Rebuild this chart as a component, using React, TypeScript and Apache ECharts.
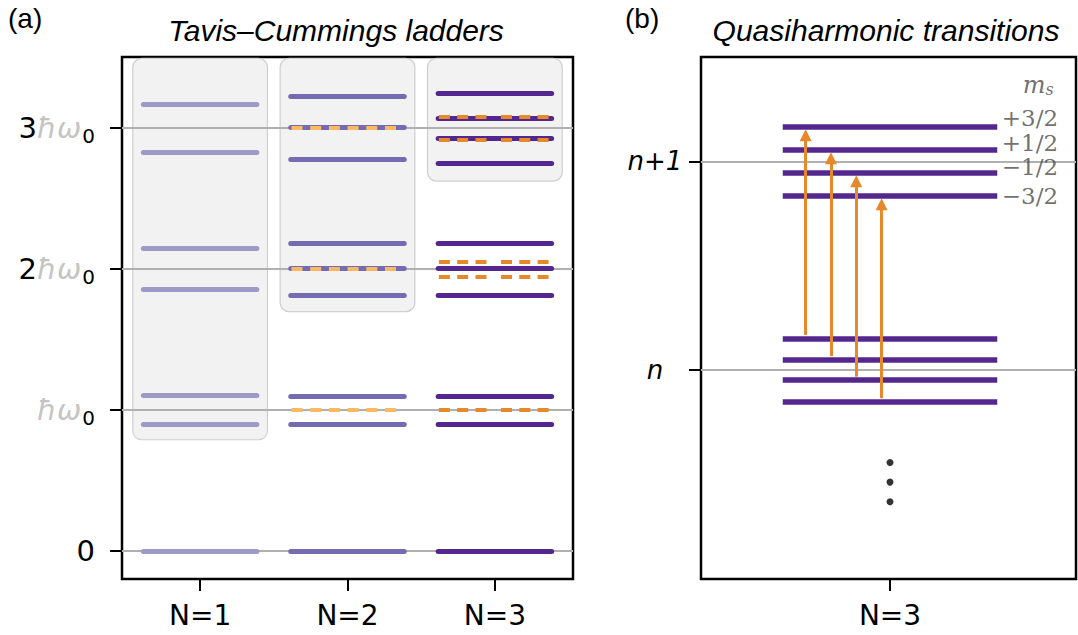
import React, { useEffect, useRef } from "react";
import * as echarts from "echarts";

// ---------- Panel (a): Tavis–Cummings ladders ----------
const columnsA = [0, 1, 2];
const xTickLabelsA = ["N=1", "N=2", "N=3"];
const yTicksA = [0, 1, 2, 3];
const levelsN1 = [0, 0.9, 1.1, 1.855, 2.142, 2.827, 3.168];
const levelsN2 = [0, 0.897, 1.097, 1.813, 2.0, 2.18, 2.775, 3.0, 3.225];
const darkN2 = [1.0, 2.0, 3.0];
const levelsN3 = [0, 0.897, 1.097, 1.813, 2.0, 2.177, 2.745, 2.924, 3.064, 3.24];
const darkN3 = [1.0, 1.94, 2.05, 2.91, 3.075];
const boxBottoms = [0.787, 1.695, 2.62];
const boxTop = 3.49;

// ---------- Panel (b): Quasiharmonic transitions ----------
const xTickLabelsB = ["N=3"];
const yTicksB = [1, 2];
const yTickLabelsB = ["n", "n+1"];
const levelsLower = [1.153, 1.052, 0.953, 0.85];
const levelsUpper = [2.165, 2.055, 1.945, 1.835];
const arrowX = [-0.45, -0.315, -0.18, -0.045];
const msLabels = ["+3/2", "+1/2", "\u22121/2", "\u22123/2"];
const msLabelY = [2.209, 2.087, 1.973, 1.836];
const msHeaderPos = [0.79, 2.367];
const dotsY = [0.558, 0.464, 0.37];

const X_A = [-0.53, 2.53];
const Y_A = [-0.2, 3.5];
const X_B = [-1.008, 0.992];
const Y_B = [0, 2.5];

const C1 = "#9e9ac8";
const C2 = "#756bb1";
const C3 = "#54278f";
const ORANGE_LIGHT = "#fdb863";
const ORANGE = "#e6892b";
const GRID_GREY = "#b0b0b0";

const HALF_A = 0.385;
const HALF_BOX = 0.457;
const HALF_B = 0.572;

function seg(cx: number, y: number, half: number) {
  return { coords: [[cx - half, y], [cx + half, y]] };
}

export default function App() {
  const ref = useRef<HTMLDivElement>(null);
  useEffect(() => {
    if (!ref.current) return;
    const chart = echarts.init(ref.current, null, { renderer: "svg" });

    const levelSeries = (data: number[], cx: number, color: string) => ({
      type: "lines",
      coordinateSystem: "cartesian2d",
      xAxisIndex: 0,
      yAxisIndex: 0,
      z: 4,
      silent: true,
      lineStyle: { color, width: 5, opacity: 1, cap: "round" },
      data: data.map((y) => seg(cx, y, HALF_A)),
    });

    const dashSeries = (data: number[], cx: number, color: string, dash: number[]) => ({
      type: "lines",
      coordinateSystem: "cartesian2d",
      xAxisIndex: 0,
      yAxisIndex: 0,
      z: 5,
      silent: true,
      lineStyle: { color, width: 4, opacity: 1, type: dash, cap: "butt" },
      data: data.map((y) => seg(cx, y, HALF_A - 0.005)),
    });

    const tickFont = "DejaVu Sans";
    const tick = { show: true, length: 12, lineStyle: { color: "#000", width: 2 } };

    const option: any = {
      animation: false,
      grid: [
        { left: 122, top: 57, width: 451, height: 522, show: true, borderColor: "#000", borderWidth: 2.5, backgroundColor: "transparent" },
        { left: 701, top: 57, width: 375, height: 522, show: true, borderColor: "#000", borderWidth: 2.5, backgroundColor: "transparent" },
      ],
      xAxis: [
        {
          gridIndex: 0, type: "value", min: X_A[0], max: X_A[1], position: "bottom",
          axisLine: { show: false, onZero: false },
          splitLine: { show: false },
          axisTick: { ...tick, customValues: columnsA },
          axisLabel: {
            customValues: columnsA, margin: 22, color: "#000", fontSize: 28, fontFamily: tickFont,
            formatter: (v: number) => xTickLabelsA[Math.round(v)] ?? "",
          },
        },
        {
          gridIndex: 1, type: "value", min: X_B[0], max: X_B[1], position: "bottom",
          axisLine: { show: false, onZero: false },
          splitLine: { show: false },
          axisTick: { ...tick, customValues: [0] },
          axisLabel: {
            customValues: [0], margin: 22, color: "#000", fontSize: 28, fontFamily: tickFont,
            formatter: () => xTickLabelsB[0],
          },
        },
      ],
      yAxis: [
        {
          gridIndex: 0, type: "value", min: Y_A[0], max: Y_A[1], position: "left",
          axisLine: { show: false, onZero: false },
          splitLine: { show: false },
          axisTick: { ...tick, customValues: yTicksA },
          axisLabel: {
            customValues: yTicksA, margin: 27,
            formatter: (v: number) => {
              const n = Math.round(v);
              if (n === 0) return "{b|0}";
              return (n === 1 ? "" : "{b|" + n + "}") + "{g|\u0127\u03c9}{s|0}";
            },
            rich: {
              b: { fontSize: 29, color: "#000", fontFamily: tickFont },
              g: { fontSize: 29, color: "#c4c4c4", fontFamily: tickFont, fontStyle: "italic" },
              s: { fontSize: 20, color: "#000", fontFamily: tickFont, padding: [16, 0, 0, 1] },
            },
          },
        },
        {
          gridIndex: 1, type: "value", min: Y_B[0], max: Y_B[1], position: "left",
          axisLine: { show: false, onZero: false },
          splitLine: { show: false },
          axisTick: { ...tick, customValues: yTicksB },
          axisLabel: {
            customValues: yTicksB, margin: 46, align: "center",
            color: "#000", fontSize: 26, fontFamily: tickFont, fontStyle: "italic",
            formatter: (v: number) => yTickLabelsB[yTicksB.indexOf(Math.round(v))] ?? "",
          },
        },
      ],
      graphic: [
        { type: "text", x: 8, y: 4, style: { text: "(a)", fill: "#000", fontSize: 28, fontFamily: "Liberation Sans" } },
        { type: "text", x: 336, y: 30, style: { text: "Tavis\u2013Cummings ladders", fill: "#000", fontSize: 30, fontFamily: "Liberation Sans", fontStyle: "italic", align: "center", verticalAlign: "middle" } },
        { type: "text", x: 625, y: 4, style: { text: "(b)", fill: "#000", fontSize: 28, fontFamily: "Liberation Sans" } },
        { type: "text", x: 886, y: 30, style: { text: "Quasiharmonic transitions", fill: "#000", fontSize: 30, fontFamily: "Liberation Sans", fontStyle: "italic", align: "center", verticalAlign: "middle" } },
      ],
      series: [
        {
          type: "custom",
          xAxisIndex: 0,
          yAxisIndex: 0,
          z: 1,
          silent: true,
          dimensions: ["x0", "x1", "y0", "y1"],
          encode: { x: [0, 1], y: [2, 3] },
          data: columnsA.map((c, i) => [c - HALF_BOX, c + HALF_BOX, boxBottoms[i], boxTop]),
          renderItem: (params: any, api: any) => {
            const p0 = api.coord([api.value(0), api.value(3)]);
            const p1 = api.coord([api.value(1), api.value(2)]);
            return {
              type: "rect",
              shape: { x: p0[0], y: p0[1], width: p1[0] - p0[0], height: p1[1] - p0[1], r: 9 },
              style: { fill: "#f2f2f2", stroke: "#cfcfcf", lineWidth: 1.2 },
            };
          },
        },
        {
          type: "lines", coordinateSystem: "cartesian2d", xAxisIndex: 0, yAxisIndex: 0, z: 2, silent: true,
          lineStyle: { color: GRID_GREY, width: 2, opacity: 1 },
          data: yTicksA.map((y) => ({ coords: [[X_A[0], y], [X_A[1], y]] })),
        },
        levelSeries(levelsN1, columnsA[0], C1),
        levelSeries(levelsN2, columnsA[1], C2),
        levelSeries(levelsN3, columnsA[2], C3),
        dashSeries(darkN2, columnsA[1], ORANGE_LIGHT, [11, 7.7]),
        dashSeries(darkN3, columnsA[2], ORANGE, [11, 7.3, 11, 7.3, 11, 14.5, 11, 7.3, 11, 7.3, 11, 30]),
        // panel b
        {
          type: "lines", coordinateSystem: "cartesian2d", xAxisIndex: 1, yAxisIndex: 1, z: 2, silent: true,
          lineStyle: { color: GRID_GREY, width: 2, opacity: 1 },
          data: yTicksB.map((y) => ({ coords: [[X_B[0], y], [X_B[1], y]] })),
        },
        {
          type: "lines", coordinateSystem: "cartesian2d", xAxisIndex: 1, yAxisIndex: 1, z: 3, silent: true,
          lineStyle: { color: C3, width: 5.5, opacity: 1, cap: "butt" },
          data: levelsLower.concat(levelsUpper).map((y) => seg(0, y, HALF_B)),
        },
        {
          type: "lines", coordinateSystem: "cartesian2d", xAxisIndex: 1, yAxisIndex: 1, z: 4, silent: true,
          symbol: ["none", "triangle"],
          symbolSize: 12,
          lineStyle: { color: ORANGE, width: 3, opacity: 1 },
          itemStyle: { color: ORANGE },
          data: arrowX.map((x, i) => ({ coords: [[x, levelsLower[i] + 0.016], [x, levelsUpper[i] - 0.04]] })),
        },
        {
          type: "scatter", xAxisIndex: 1, yAxisIndex: 1, z: 4, silent: true,
          symbol: "circle", symbolSize: 7,
          itemStyle: { color: "#000" },
          data: dotsY.map((y) => [0, y]),
        },
        {
          type: "scatter", xAxisIndex: 1, yAxisIndex: 1, z: 4, silent: true,
          symbolSize: 0,
          label: {
            show: true, position: "right", distance: 0,
            color: "#4a4a4a", fontSize: 23, lineHeight: 18, fontFamily: "DejaVu Serif",
            formatter: (p: any) => msLabels[p.dataIndex],
          },
          data: msLabelY.map((y) => [0.596, y]),
        },
        {
          type: "scatter", xAxisIndex: 1, yAxisIndex: 1, z: 4, silent: true,
          symbolSize: 0,
          label: {
            show: true, position: "inside",
            formatter: "{m|m}{s|s}",
            rich: {
              m: { color: "#4a4a4a", fontSize: 24, fontFamily: "DejaVu Serif", fontStyle: "italic" },
              s: { color: "#4a4a4a", fontSize: 16, fontFamily: "DejaVu Serif", fontStyle: "italic", padding: [10, 0, 0, 0] },
            },
          },
          data: [msHeaderPos],
        },
      ],
    };
    chart.setOption(option);
    return () => chart.dispose();
  }, []);
  return <div ref={ref} style={{ position: "fixed", left: 0, top: 0, width: 1078, height: 635, background: "#fff" }} />;
}
